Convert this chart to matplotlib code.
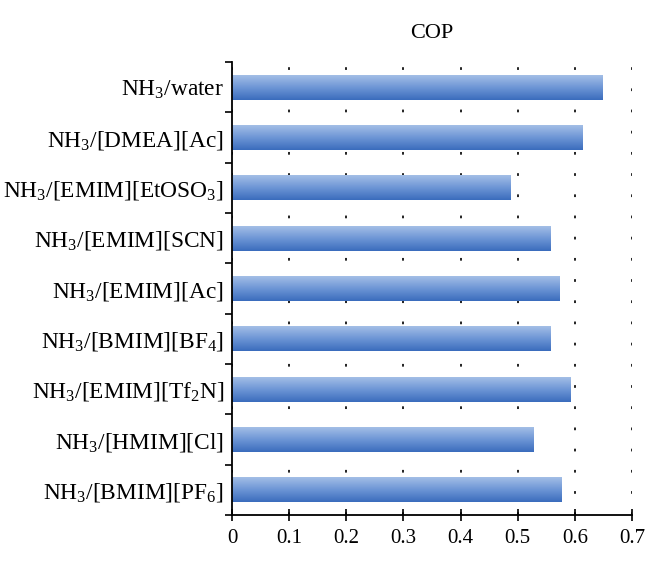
import matplotlib
matplotlib.use("Agg")
import matplotlib.pyplot as plt
import numpy as np
from matplotlib.colors import LinearSegmentedColormap

plt.rcParams['font.family'] = ['Liberation Serif', 'DejaVu Serif']
plt.rcParams['mathtext.fontset'] = 'custom'
plt.rcParams['mathtext.rm'] = 'Liberation Serif'
plt.rcParams['mathtext.it'] = 'Liberation Serif:italic'

categories = [
    r'NH$_3$/[BMIM][PF$_6$]',
    r'NH$_3$/[HMIM][Cl]',
    r'NH$_3$/[EMIM][Tf$_2$N]',
    r'NH$_3$/[BMIM][BF$_4$]',
    r'NH$_3$/[EMIM][Ac]',
    r'NH$_3$/[EMIM][SCN]',
    r'NH$_3$/[EMIM][EtOSO$_3$]',
    r'NH$_3$/[DMEA][Ac]',
    r'NH$_3$/water',
]
cop = [0.577, 0.527, 0.592, 0.558, 0.574, 0.558, 0.487, 0.614, 0.649]
xticks = [0, 0.1, 0.2, 0.3, 0.4, 0.5, 0.6, 0.7]
xticklabels = ['0', '0.1', '0.2', '0.3', '0.4', '0.5', '0.6', '0.7']
title = 'COP'

fig = plt.figure(figsize=(6.47, 5.64), dpi=100)
ax = fig.add_axes([0.3586, 0.0869, 0.6182, 0.8031])

y = np.arange(len(categories))
bars = ax.barh(y, cop, height=0.5, color='#5b88cc', zorder=3)

cmap = LinearSegmentedColormap.from_list('g', ['#3a6cbd', '#6f97d6', '#a8c2e8'])
grad = np.linspace(0, 1, 256).reshape(-1, 1)
for b in bars:
    x0, y0 = b.get_x(), b.get_y()
    w, h = b.get_width(), b.get_height()
    im = ax.imshow(grad, extent=[x0, x0 + w, y0, y0 + h], origin='lower',
                   aspect='auto', cmap=cmap, zorder=4)
    im.set_clip_path(b)

ax.set_xlim(0, 0.7)
ax.set_ylim(-0.5, len(categories) - 0.5)

ax.set_xticks(xticks)
ax.set_xticklabels(xticklabels, fontsize=15)
ax.set_yticks(y)
ax.set_yticklabels(categories, fontsize=16.8)
ax.tick_params(axis='y', length=0, pad=6)
ax.set_yticks(np.arange(-0.5, len(categories), 1), minor=True)
ax.tick_params(axis='y', which='minor', length=5, width=1.2, direction='out')
ax.tick_params(axis='x', direction='inout', length=8, width=1.2, pad=6)

ax.grid(axis='x', color='#222222', linestyle=(0, (1.4, 9.5)), linewidth=1.4, zorder=1)
ax.set_axisbelow(True)

for s in ['top', 'right']:
    ax.spines[s].set_visible(False)
for s in ['left', 'bottom']:
    ax.spines[s].set_linewidth(1.3)
    ax.spines[s].set_zorder(5)

ax.set_title(title, fontsize=16, pad=17)

fig.savefig('out.png', dpi=100)
